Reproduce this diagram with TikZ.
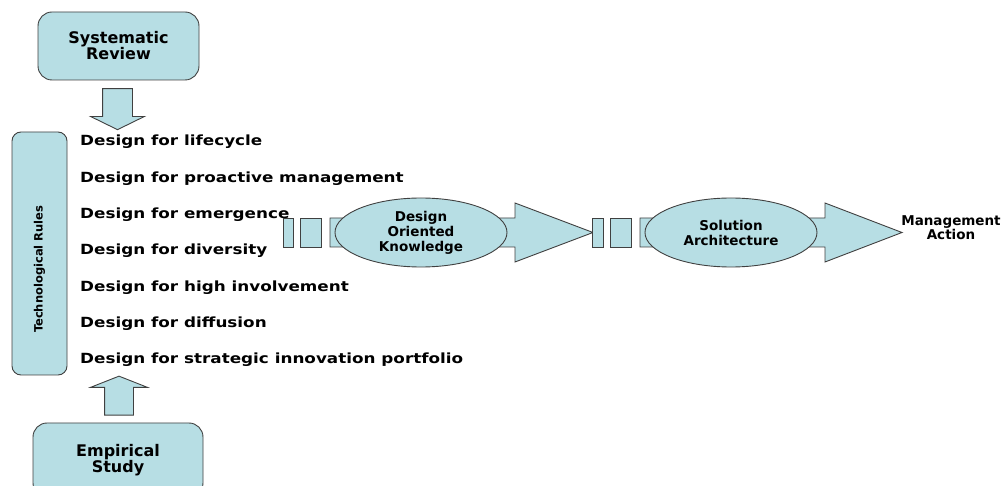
\documentclass[tikz,border=0pt]{standalone}
\usepackage{fontspec}
\setmainfont{DejaVu Sans}
\newfontfamily\listfont{DejaVu Sans}[FakeStretch=1.2]
\usetikzlibrary{shapes.geometric, shapes.arrows, positioning}
\definecolor{boxfill}{RGB}{183,222,228}
\definecolor{boxline}{RGB}{64,64,64}
\tikzstyle{source} = [rectangle, rounded corners=14pt, 
minimum width=161pt, 
minimum height=68pt, 
align=center, 
draw=boxline, line width=0.9pt, 
fill=boxfill, 
font=\bfseries\fontsize{16}{16}\selectfont]
\tikzstyle{rules} = [rectangle, rounded corners=9pt, 
rotate=90, 
minimum width=243pt, 
minimum height=55pt, 
text width=159pt, 
align=left, 
draw=boxline, line width=0.9pt, 
fill=boxfill, 
font=\bfseries\fontsize{11.5}{13}\selectfont]
\tikzstyle{item} = [inner sep=0pt, 
font=\listfont\bfseries\fontsize{14}{16}\selectfont]
\tikzstyle{knowledge} = [ellipse, 
minimum width=172pt, 
minimum height=69pt, 
inner sep=0pt, 
align=center, 
draw=boxline, line width=0.9pt, 
fill=boxfill, 
font=\bfseries\fontsize{13.5}{15}\selectfont]
\tikzstyle{tailbar} = [rectangle, 
minimum height=29pt, 
inner sep=0pt, 
draw=boxline, line width=0.9pt, 
fill=boxfill]
\tikzstyle{bigarrow} = [draw=boxline, line width=0.9pt, 
fill=boxfill]
\tikzstyle{blockdown} = [single arrow, rotate=-90, 
minimum height=41pt, 
minimum width=53pt, 
inner sep=0pt, inner ysep=14.5pt, 
single arrow head extend=12pt, 
single arrow tip angle=127.8, 
draw=boxline, line width=0.9pt, 
fill=boxfill]
\tikzstyle{blockup} = [single arrow, rotate=90, 
minimum height=39pt, 
minimum width=56pt, 
inner sep=0pt, inner ysep=14pt, 
single arrow head extend=14pt, 
single arrow tip angle=137, 
draw=boxline, line width=0.9pt, 
fill=boxfill]
\tikzstyle{plain} = [align=center, 
font=\bfseries\fontsize{13.5}{13}\selectfont]

\begin{document}
\begin{tikzpicture}[x=1pt, y=-1pt, node distance=36.3pt]
		\useasboundingbox (0,0) rectangle (1002,486);
		
		\node (sysrev) [source] at (118.5,46) {Systematic\\Review};
		\node (downarrow) [blockdown] at (117.5,105.5) {};
		\node (techrules) [rules] at (39.5,253.5) {Technological Rules};
		\node (uparrow) [blockup] at (119,398.5) {};
		\node (empstudy) [source, minimum width=170pt, minimum height=74pt] at (118,460) {Empirical\\Study};
		
		% rules
		\node (d1) [item, anchor=west] at (80,142) {Design for lifecycle};
		\node (d2) [item, below=of d1.west, anchor=west] {Design for proactive management};
		\node (d3) [item, below=of d2.west, anchor=west] {Design for emergence};
		\node (d4) [item, below=of d3.west, anchor=west] {Design for diversity};
		\node (d5) [item, below=of d4.west, anchor=west] {Design for high involvement};
		\node (d6) [item, below=of d5.west, anchor=west] {Design for diffusion};
		\node (d7) [item, below=of d6.west, anchor=west] {Design for strategic innovation portfolio};
		
		% chain
		\node (tail1a) [tailbar, minimum width=10pt] at (288,232.5) {};
		\node (tail1b) [tailbar, minimum width=21pt] at (310.5,232.5) {};
		\draw [bigarrow] (330,218) -- (515,218) -- (515,203) -- (593,232.5) -- (515,262) -- (515,247) -- (330,247) -- cycle;
		\node (dok) [knowledge] at (421,232.5) {Design\\Oriented\\Knowledge};
		\node (tail2a) [tailbar, minimum width=11pt] at (597.5,232.5) {};
		\node (tail2b) [tailbar, minimum width=21pt] at (620.5,232.5) {};
		\draw [bigarrow] (640,218) -- (825,218) -- (825,203) -- (902,232.5) -- (825,262) -- (825,247) -- (640,247) -- cycle;
		\node (solarch) [knowledge] at (731,232.5) {Solution\\Architecture};
		\node (action) [plain] at (951,228) {Management\\Action};
		
	\end{tikzpicture}
\end{document}
